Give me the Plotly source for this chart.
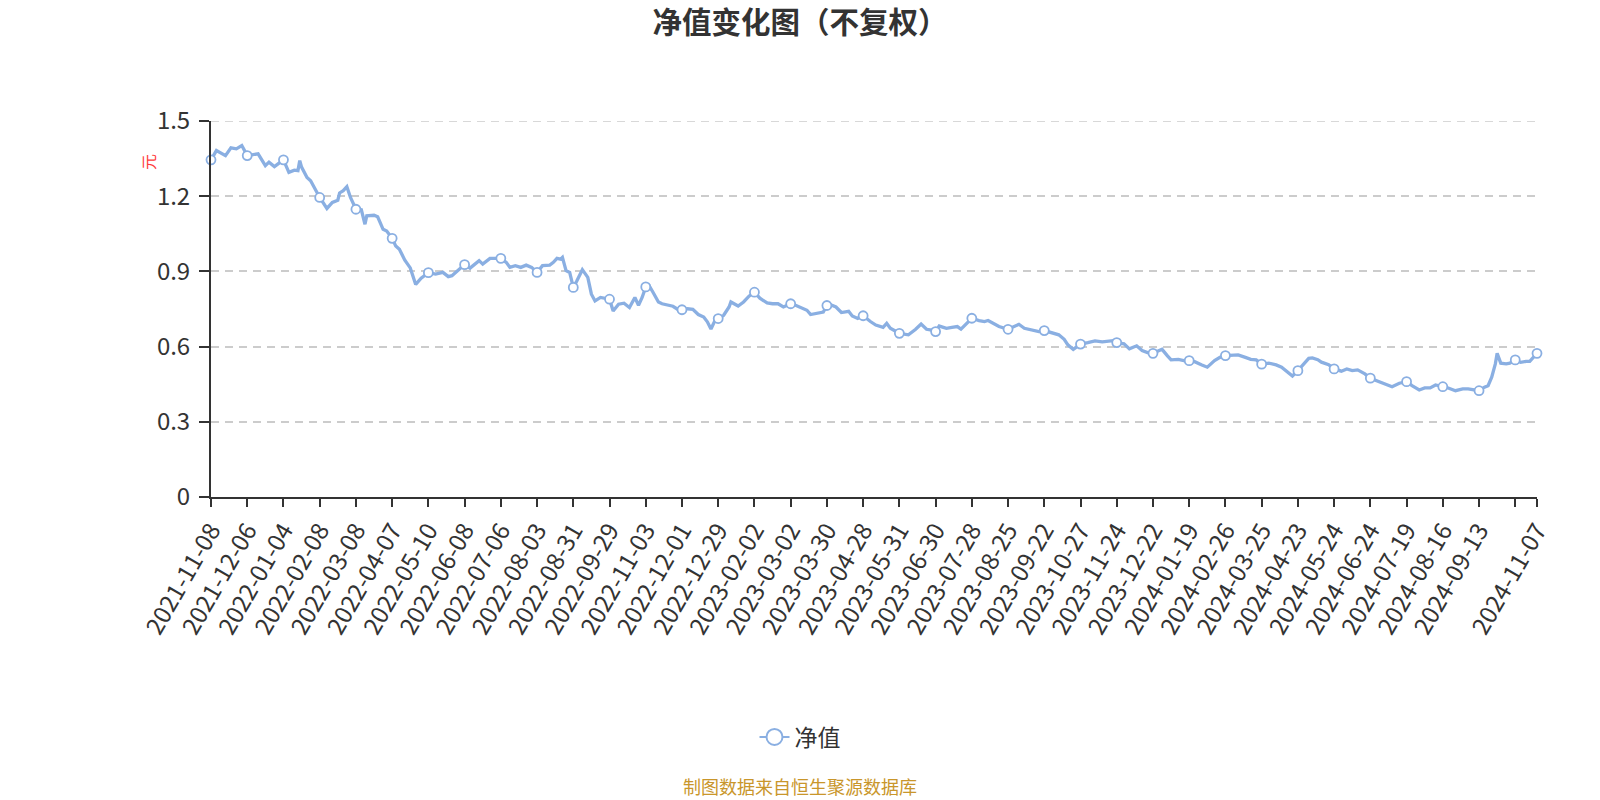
import plotly.graph_objects as go

# trading-day index of each sampled point (0 = 2021-11-08)
day_idx = [
    0, 3, 8, 11, 14, 17, 20, 24, 26, 30, 32, 35, 37, 40, 43, 46, 48, 49, 50, 53,
    55, 57, 60, 64, 67, 70, 71, 73, 75, 77, 80, 83, 85, 86, 90, 92, 95, 97, 100, 102,
    104, 107, 110, 113, 116, 120, 124, 128, 131, 133, 136, 140, 143, 148, 150, 154, 156, 160, 163, 165,
    168, 171, 174, 177, 180, 183, 187, 189, 191, 193, 194, 196, 198, 200, 202, 205, 208, 210, 212, 215,
    220, 222, 225, 228, 231, 234, 236, 238, 240, 242, 244, 247, 249, 252, 255, 258, 260, 263, 266, 269,
    272, 274, 276, 278, 280, 283, 286, 287, 291, 294, 297, 300, 303, 307, 310, 313, 316, 320, 323, 326,
    329, 331, 335, 338, 340, 342, 345, 348, 352, 354, 357, 360, 364, 367, 371, 373, 375, 377, 380, 385,
    389, 392, 395, 398, 400, 402, 406, 409, 412, 414, 417, 420, 424, 427, 429, 433, 435, 440, 443, 446,
    449, 453, 457, 460, 464, 468, 471, 473, 476, 478, 480, 484, 488, 492, 495, 498, 500, 504, 507, 511,
    514, 517, 520, 522, 525, 528, 530, 534, 537, 540, 543, 547, 550, 554, 557, 560, 564, 567, 571, 574,
    577, 580, 584, 588, 591, 594, 597, 600, 603, 606, 608, 611, 613, 617, 620, 624, 627, 630, 633, 637,
    640, 644, 647, 652, 656, 660, 663, 667, 670, 673, 676, 680, 683, 687, 691, 694, 697, 700, 703, 705,
    707, 709, 710, 712, 715, 717, 720, 723, 726, 728, 732,
]

nav = [
    1.345, 1.382, 1.362, 1.393, 1.389, 1.402, 1.362, 1.365, 1.369, 1.322, 1.336, 1.318, 1.329, 1.345, 1.295, 1.304, 1.302, 1.342, 1.316, 1.275,
    1.262, 1.235, 1.195, 1.151, 1.175, 1.184, 1.213, 1.222, 1.238, 1.195, 1.148, 1.146, 1.088, 1.122, 1.124, 1.118, 1.068, 1.061, 1.032, 1.001,
    0.988, 0.945, 0.914, 0.848, 0.873, 0.895, 0.889, 0.896, 0.879, 0.883, 0.903, 0.927, 0.913, 0.943, 0.929, 0.952, 0.952, 0.952, 0.936, 0.916,
    0.923, 0.916, 0.925, 0.916, 0.896, 0.923, 0.925, 0.936, 0.952, 0.949, 0.956, 0.903, 0.896, 0.836, 0.863, 0.907, 0.876, 0.809, 0.782, 0.796,
    0.789, 0.742, 0.769, 0.773, 0.756, 0.796, 0.765, 0.796, 0.838, 0.841, 0.817, 0.778, 0.771, 0.767, 0.761, 0.747, 0.747, 0.751, 0.749, 0.728,
    0.718, 0.699, 0.670, 0.701, 0.712, 0.725, 0.758, 0.778, 0.762, 0.778, 0.801, 0.817, 0.793, 0.774, 0.771, 0.771, 0.758, 0.771, 0.764, 0.754,
    0.745, 0.728, 0.732, 0.738, 0.764, 0.767, 0.758, 0.736, 0.741, 0.722, 0.712, 0.723, 0.700, 0.686, 0.677, 0.693, 0.673, 0.666, 0.653, 0.647,
    0.669, 0.690, 0.669, 0.666, 0.660, 0.682, 0.673, 0.677, 0.680, 0.670, 0.693, 0.713, 0.704, 0.700, 0.704, 0.686, 0.680, 0.669, 0.680, 0.689,
    0.673, 0.666, 0.660, 0.664, 0.656, 0.647, 0.629, 0.607, 0.589, 0.600, 0.610, 0.616, 0.623, 0.619, 0.620, 0.624, 0.616, 0.611, 0.591, 0.603,
    0.584, 0.576, 0.573, 0.580, 0.589, 0.563, 0.547, 0.549, 0.544, 0.544, 0.540, 0.527, 0.518, 0.544, 0.557, 0.564, 0.567, 0.567, 0.557, 0.549,
    0.547, 0.530, 0.534, 0.527, 0.518, 0.500, 0.483, 0.504, 0.527, 0.553, 0.555, 0.548, 0.538, 0.528, 0.511, 0.502, 0.511, 0.504, 0.507, 0.491,
    0.474, 0.462, 0.454, 0.440, 0.454, 0.460, 0.444, 0.427, 0.435, 0.435, 0.447, 0.440, 0.435, 0.424, 0.431, 0.431, 0.427, 0.424, 0.438, 0.444,
    0.478, 0.531, 0.573, 0.534, 0.531, 0.534, 0.547, 0.537, 0.541, 0.541, 0.573,
]

tick_idx = [i * 20 for i in range(37)] + [732]
tick_dates = [
    "2021-11-08", "2021-12-06", "2022-01-04", "2022-02-08", "2022-03-08", "2022-04-07",
    "2022-05-10", "2022-06-08", "2022-07-06", "2022-08-03", "2022-08-31", "2022-09-29",
    "2022-11-03", "2022-12-01", "2022-12-29", "2023-02-02", "2023-03-02", "2023-03-30",
    "2023-04-28", "2023-05-31", "2023-06-30", "2023-07-28", "2023-08-25", "2023-09-22",
    "2023-10-27", "2023-11-24", "2023-12-22", "2024-01-19", "2024-02-26", "2024-03-25",
    "2024-04-23", "2024-05-24", "2024-06-24", "2024-07-19", "2024-08-16", "2024-09-13",
    "", "2024-11-07",
]

marker_idx = [i * 20 for i in range(37)] + [732]

y_ticks = [0, 0.3, 0.6, 0.9, 1.2, 1.5]
y_ticktext = ["0", "0.3", "0.6", "0.9", "1.2", "1.5"]

FONT = "Noto Sans CJK SC, Noto Sans, sans-serif"
LINE_COLOR = "#8aafe2"

ML, MR, MT, MB = 211, 63, 121, 303
W, H = 1600, 800
plot_w = W - ML - MR
plot_h = H - MT - MB


def px_to_paper_x(px):
    return (px - ML) / plot_w


def px_to_paper_y(py):
    return (H - MB - py) / plot_h


mk_x = [d for d in day_idx if d in marker_idx]
mk_y = [v for d, v in zip(day_idx, nav) if d in marker_idx]

fig = go.Figure()
fig.add_trace(go.Scatter(
    x=day_idx, y=nav, mode="lines", name="净值", showlegend=False,
    line=dict(color=LINE_COLOR, width=3.3), hoverinfo="skip", cliponaxis=False,
))
fig.add_trace(go.Scatter(
    x=mk_x, y=mk_y, mode="markers", name="净值", showlegend=False,
    marker=dict(symbol="circle", size=9, color="white",
                line=dict(color=LINE_COLOR, width=1.8)),
    hoverinfo="skip", cliponaxis=False,
))
# legend entry
fig.add_trace(go.Scatter(
    x=[None], y=[None], mode="lines+markers", name="净值", showlegend=True,
    line=dict(color=LINE_COLOR, width=2),
    marker=dict(symbol="circle", size=18, color="white",
                line=dict(color=LINE_COLOR, width=2)),
))

fig.update_layout(
    width=W, height=H,
    margin=dict(l=ML, r=MR, t=MT, b=MB),
    paper_bgcolor="white", plot_bgcolor="white",
    font=dict(family=FONT, color="#333333"),
    title=dict(text="<b>净值变化图（不复权）</b>", x=0.5, xanchor="center",
               y=1 - 22.5 / H, yanchor="middle", yref="container",
               font=dict(size=29.5, color="#333333", family=FONT)),
    showlegend=True,
    legend=dict(orientation="h", x=px_to_paper_x(800), xanchor="center",
                y=px_to_paper_y(737), yanchor="middle",
                font=dict(size=23, color="#333333")),
    xaxis=dict(
        range=[0, 732], tickmode="array", tickvals=tick_idx, ticktext=tick_dates,
        tickangle=-60, tickfont=dict(size=24, color="#333333"),
        showline=True, linecolor="#333333", linewidth=2,
        ticks="outside", ticklen=8, tickwidth=2, tickcolor="#333333",
        showgrid=False, zeroline=False,
    ),
    yaxis=dict(
        range=[0, 1.5], tickmode="array", tickvals=y_ticks, ticktext=y_ticktext,
        tickfont=dict(size=24, color="#333333"),
        showline=True, linecolor="#333333", linewidth=2,
        ticks="outside", ticklen=10, tickwidth=2, tickcolor="#333333",
        ticklabelstandoff=4,
        showgrid=True, gridcolor="#cccccc", gridwidth=1.5, griddash="8px,6px",
        zeroline=False,
    ),
    shapes=[
        dict(type="line", xref="paper", x0=0, x1=1, yref="y", y0=1.5, y1=1.5,
             line=dict(color="#cccccc", width=1.5, dash="8px,6px"), layer="below"),
    ],
    annotations=[
        dict(text="元", x=px_to_paper_x(148), xref="paper", xanchor="center",
             y=px_to_paper_y(162), yref="paper", yanchor="middle", showarrow=False,
             textangle=-90, font=dict(size=16, color="#ff3b3b")),
        dict(text="制图数据来自恒生聚源数据库", x=px_to_paper_x(800), xref="paper",
             xanchor="center", y=px_to_paper_y(786), yref="paper", yanchor="middle",
             showarrow=False, font=dict(size=18, color="#c9962b")),
    ],
)

fig.write_html("out.html")
